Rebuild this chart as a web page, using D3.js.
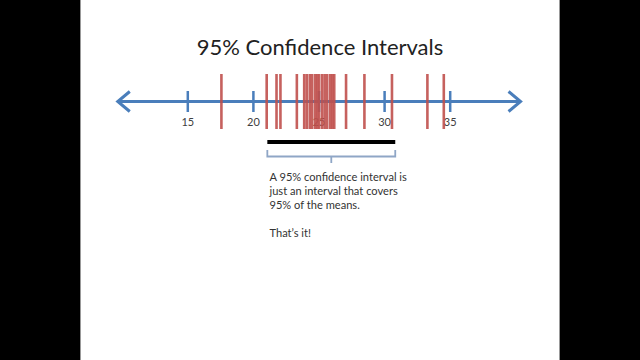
<!DOCTYPE html>
<html><head><meta charset="utf-8">
<script src="https://cdn.jsdelivr.net/npm/d3@7"></script>
<style>html,body{margin:0;padding:0;background:#000;}svg{display:block;}</style>
</head><body>
<svg id="chart" width="640" height="360"></svg>
<script>
// ---- data ----
const title = "95% Confidence Intervals";
const tickValues = [15, 20, 25, 30, 35];
const axisExtent = [9.7, 40.4];
const sampleMeans = [17.6, 21.05, 21.8, 22.1, 23.35,
  23.91, 24.10, 24.33, 24.52, 24.75, 24.90, 25.05, 25.28, 25.47, 25.66, 25.89, 26.05, 26.20,
  27.1, 28.5, 30.6, 33.3, 34.55];
const interval95 = [21.1, 30.85];
const noteLines = ["A 95% confidence interval is", "just an interval that covers", "95% of the means.", "", "That\u2019s it!"];

// ---- drawing ----
const svg = d3.select("#chart");
svg.append("rect").attr("x", 80).attr("y", 0).attr("width", 480).attr("height", 360).attr("fill", "#fff");
svg.append("line").attr("x1", 80.5).attr("x2", 80.5).attr("y1", 0).attr("y2", 360).attr("stroke", "#999").attr("stroke-width", 1);
svg.append("line").attr("x1", 559.5).attr("x2", 559.5).attr("y1", 0).attr("y2", 360).attr("stroke", "#999").attr("stroke-width", 1);

svg.append("text").attr("x", 320).attr("y", 55).attr("text-anchor", "middle")
  .attr("font-family", "Lato, 'Open Sans', sans-serif").attr("font-size", 22).attr("fill", "#222")
  .text(title);

const x = d3.scaleLinear().domain([15, 35]).range([187.3, 449.7]);
const axisY = 101.5;
const blue = "#4a7ebb";

// axis line
svg.append("line").attr("x1", x(axisExtent[0]) + 1).attr("x2", x(axisExtent[1]) - 1)
  .attr("y1", axisY).attr("y2", axisY).attr("stroke", blue).attr("stroke-width", 3);
// arrowheads
const ax0 = x(axisExtent[0]), ax1 = x(axisExtent[1]);
svg.append("path").attr("d", `M${ax0 + 12},${axisY - 10} L${ax0},${axisY} L${ax0 + 12},${axisY + 10}`)
  .attr("fill", "none").attr("stroke", blue).attr("stroke-width", 3).attr("stroke-linejoin", "miter");
svg.append("path").attr("d", `M${ax1 - 12},${axisY - 10} L${ax1},${axisY} L${ax1 - 12},${axisY + 10}`)
  .attr("fill", "none").attr("stroke", blue).attr("stroke-width", 3).attr("stroke-linejoin", "miter");

// ticks via d3 axis
const axis = d3.axisBottom(x).tickValues(tickValues).tickSize(0).tickPadding(0).tickFormat(d3.format("d"));
const gAxis = svg.append("g").attr("transform", `translate(0,${axisY})`).call(axis);
gAxis.select(".domain").remove();
gAxis.selectAll(".tick").append("line").attr("y1", -10.5).attr("y2", 10.5)
  .attr("stroke", blue).attr("stroke-width", 2.5);
gAxis.selectAll(".tick text").attr("y", 24.5).attr("dy", 0)
  .attr("font-family", "Lato, 'Open Sans', sans-serif").attr("font-size", 11).attr("fill", "#404040");

// red lines
svg.append("g").selectAll("line").data(sampleMeans).join("line")
  .attr("x1", d => x(d)).attr("x2", d => x(d)).attr("y1", 74).attr("y2", 129)
  .attr("stroke", "#c0504d").attr("stroke-width", 2.6).attr("opacity", 0.9);

// black interval bar
svg.append("line").attr("x1", x(interval95[0])).attr("x2", x(interval95[1]))
  .attr("y1", 142).attr("y2", 142).attr("stroke", "#000").attr("stroke-width", 4);

// bracket
const bx0 = x(interval95[0]), bx1 = x(interval95[1]), bmid = (bx0 + bx1) / 2;
svg.append("path").attr("d", `M${bx0},150 L${bx0},156.5 L${bx1},156.5 L${bx1},150 M${bmid},156.5 L${bmid},163`)
  .attr("fill", "none").attr("stroke", "#8fa6c6").attr("stroke-width", 1.8);

// note text
svg.append("g").selectAll("text").data(noteLines).join("text")
  .attr("x", 269.5).attr("y", (d, i) => 180.5 + i * 14.2)
  .attr("font-family", "Lato, 'Open Sans', sans-serif").attr("font-size", 11.1).attr("fill", "#333")
  .text(d => d);
</script>
</body></html>
